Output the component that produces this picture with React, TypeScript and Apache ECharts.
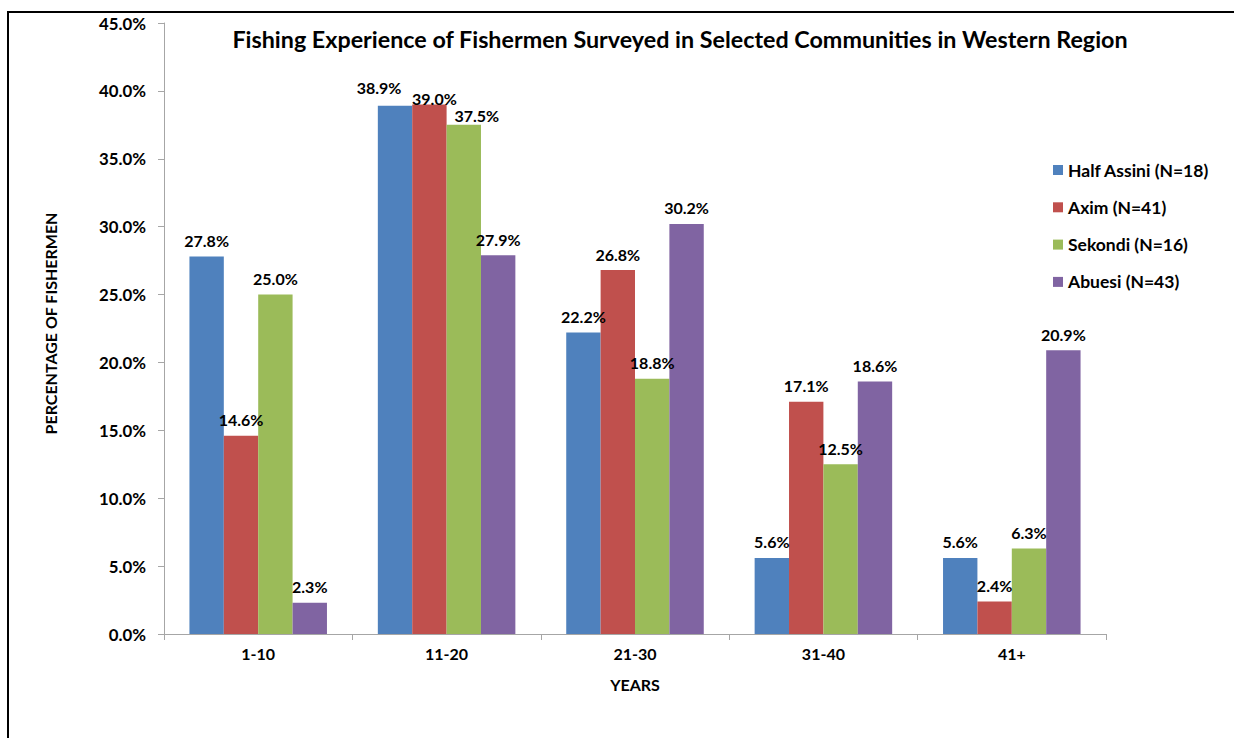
import React, { useEffect, useRef } from "react";
import * as echarts from "echarts";

const categories = ["1-10", "11-20", "21-30", "31-40", "41+"];
const seriesNames = ["Half Assini (N=18)", "Axim (N=41)", "Sekondi (N=16)", "Abuesi (N=43)"];
const halfAssini = [27.8, 38.9, 22.2, 5.6, 5.6];
const axim = [14.6, 39.0, 26.8, 17.1, 2.4];
const sekondi = [25.0, 37.5, 18.8, 12.5, 6.3];
const abuesi = [2.3, 27.9, 30.2, 18.6, 20.9];
const colors = ["#4F81BD", "#C0504D", "#9BBB59", "#8064A2"];

const FONT = "Lato, 'Open Sans', sans-serif";

// manual label nudges (series index, category index) -> [dx, dy], as in the original where labels collide
const labelNudges: Record<string, [number, number]> = {
  "0-1": [-16, -2],
  "1-1": [5, 10],
  "2-1": [13, 7],
};

export default function App() {
  const ref = useRef<HTMLDivElement>(null);
  useEffect(() => {
    if (!ref.current) return;
    const chart = echarts.init(ref.current, undefined, { renderer: "svg" });
    const data = [halfAssini, axim, sekondi, abuesi];
    chart.setOption({
      animation: false,
      backgroundColor: "#ffffff",
      textStyle: { fontFamily: FONT },
      title: {
        text: "Fishing Experience of Fishermen Surveyed in Selected Communities in Western Region",
        left: 675,
        top: 22,
        textAlign: "center",
        textStyle: { fontFamily: FONT, fontWeight: "bold", fontSize: 23.3, color: "#000" },
      },
      graphic: [
        {
          type: "rect",
          shape: { x: 8, y: 12, width: 1400, height: 900 },
          style: { fill: "none", stroke: "#000", lineWidth: 2 },
          silent: true,
        },
      ],
      legend: {
        orient: "vertical",
        left: 1048,
        top: 156,
        itemWidth: 10,
        itemHeight: 10,
        itemGap: 19.3,
        icon: "rect",
        textStyle: { fontFamily: FONT, fontWeight: "bold", fontSize: 17.5, color: "#000" },
        data: seriesNames,
      },
      grid: { left: 164, right: 128, top: 23, bottom: 104, containLabel: false },
      xAxis: {
        type: "category",
        data: categories,
        name: "YEARS",
        nameLocation: "middle",
        nameGap: 42,
        nameTextStyle: { fontFamily: FONT, fontWeight: "bold", fontSize: 16, color: "#000" },
        axisLine: { lineStyle: { color: "#a6a6a6", width: 1 } },
        axisTick: { show: true, length: 6, lineStyle: { color: "#a6a6a6" } },
        axisLabel: { margin: 11, fontFamily: FONT, fontWeight: "bold", fontSize: 16, color: "#000" },
      },
      yAxis: {
        type: "value",
        min: 0,
        max: 45,
        interval: 5,
        name: "PERCENTAGE OF FISHERMEN",
        nameLocation: "middle",
        nameGap: 106,
        nameRotate: 90,
        nameTextStyle: { fontFamily: FONT, fontWeight: "bold", fontSize: 16, color: "#000", padding: [0, 0, 0, 10] },
        axisLine: { show: true, lineStyle: { color: "#a6a6a6", width: 1 } },
        axisTick: { show: true, length: 6, lineStyle: { color: "#a6a6a6" } },
        splitLine: { show: false },
        axisLabel: {
          margin: 18,
          fontFamily: FONT,
          fontWeight: "bold",
          fontSize: 16.8,
          color: "#000",
          formatter: (v: number) => v.toFixed(1) + "%",
        },
      },
      series: seriesNames.map((name, i) => ({
        name,
        type: "bar",
        data: data[i].map((v, j) => {
          const nudge = labelNudges[i + "-" + j];
          return nudge ? { value: v, label: { offset: nudge } } : v;
        }),
        barGap: "0%",
        barCategoryGap: "27%",
        itemStyle: { color: colors[i] },
        label: {
          show: true,
          position: "top",
          distance: 8,
          fontFamily: FONT,
          fontWeight: "bold",
          fontSize: 16,
          color: "#000",
          formatter: (p: any) => Number(p.value).toFixed(1) + "%",
        },
      })),
    });
    return () => chart.dispose();
  }, []);
  return (
    <div
      ref={ref}
      style={{ position: "fixed", left: 0, top: 0, width: 1234, height: 738 }}
    />
  );
}
